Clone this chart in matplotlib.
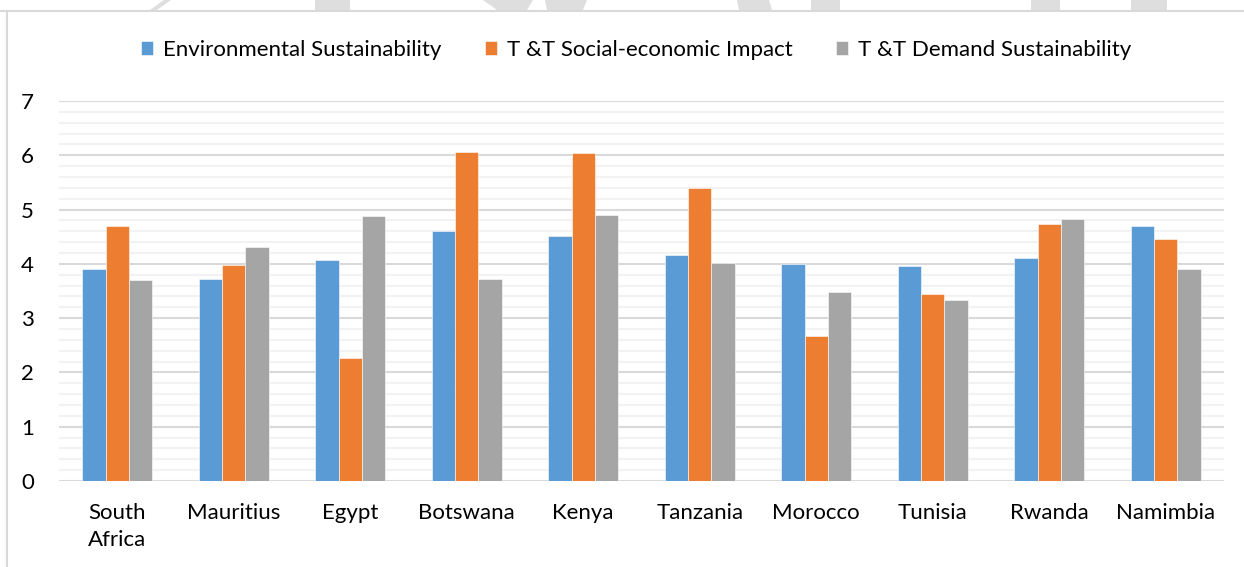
import numpy as np
import matplotlib.pyplot as plt
from matplotlib.patches import Polygon
from matplotlib.lines import Line2D
from matplotlib.ticker import MultipleLocator

countries = ["South\nAfrica", "Mauritius", "Egypt", "Botswana", "Kenya",
             "Tanzania", "Morocco", "Tunisia", "Rwanda", "Namimbia"]
env_sust = [3.90, 3.73, 4.07, 4.60, 4.52, 4.16, 3.99, 3.96, 4.10, 4.70]
socio_econ = [4.69, 3.97, 2.26, 6.06, 6.05, 5.40, 2.68, 3.44, 4.73, 4.45]
demand_sust = [3.70, 4.31, 4.89, 3.73, 4.90, 4.01, 3.48, 3.34, 4.83, 3.90]
series_names = ["Environmental Sustainability", "T &T Social-economic Impact",
                "T &T Demand Sustainability"]
colors = ["#5B9BD5", "#ED7D31", "#A5A5A5"]

plt.rcParams['font.family'] = ['Lato', 'DejaVu Sans']

W, H = 1244, 567
fig = plt.figure(figsize=(W / 100, H / 100), dpi=100)

# faint shapes along the top edge and the chart frame
def px(pts):
    return [(x / W, 1 - y / H) for x, y in pts]

shapes = [
    [(150, 10), (157, 10), (171, 0), (164, 0)],
    [(315, 0), (350, 0), (350, 10), (315, 10)],
    [(483, 0), (533, 0), (527, 10), (497, 10)],
    [(545, 0), (587, 0), (583, 10), (547, 10)],
    [(737, 0), (769, 0), (772, 10), (739, 10)],
    [(811, 0), (840, 0), (840, 10), (811, 10)],
    [(1031, 0), (1060, 0), (1060, 10), (1031, 10)],
    [(1131, 0), (1167, 0), (1167, 10), (1131, 10)],
]
for s in shapes:
    fig.add_artist(Polygon(px(s), closed=True, transform=fig.transFigure,
                           facecolor="#dedede", edgecolor="none"))
fig.add_artist(Line2D([0, 1], [1 - 11 / H] * 2, transform=fig.transFigure,
                      color="#d9d9d9", lw=1.5))
fig.add_artist(Line2D([7 / W] * 2, [0, 1 - 11 / H], transform=fig.transFigure,
                      color="#d9d9d9", lw=1.5))

ax = fig.add_axes([59 / W, 1 - 481 / H, (1224 - 59) / W, (481 - 101) / H])

x = np.arange(len(countries))
width = 0.2
for i, (vals, name, c) in enumerate(zip([env_sust, socio_econ, demand_sust],
                                        series_names, colors)):
    ax.bar(x + (i - 1) * width, vals, width, color=c, label=name,
           edgecolor="white", linewidth=0.4, zorder=3)

ax.set_xlim(-0.5, len(countries) - 0.5)
ax.set_ylim(0, 7)
ax.yaxis.set_major_locator(MultipleLocator(1))
ax.yaxis.set_minor_locator(MultipleLocator(0.2))
ax.grid(axis="y", which="major", color="#d9d9d9", lw=1.5, zorder=1)
ax.grid(axis="y", which="minor", color="#f2f2f2", lw=1.5, zorder=0)
ax.set_xticks(x)
ax.set_xticklabels(countries, fontsize=16, va="top", linespacing=1.45)
ax.tick_params(axis="y", labelsize=16, pad=18)
ax.tick_params(axis="x", pad=16)
ax.tick_params(which="both", length=0)
for s in ax.spines.values():
    s.set_visible(False)

ax.legend(loc="center", bbox_to_anchor=(636 / W, 1 - 50 / H), bbox_transform=fig.transFigure,
          ncol=3, frameon=False, fontsize=16, handlelength=0.55, handleheight=0.55,
          handletextpad=0.45, columnspacing=1.95)

fig.savefig("out.png", dpi=100, facecolor="white")
